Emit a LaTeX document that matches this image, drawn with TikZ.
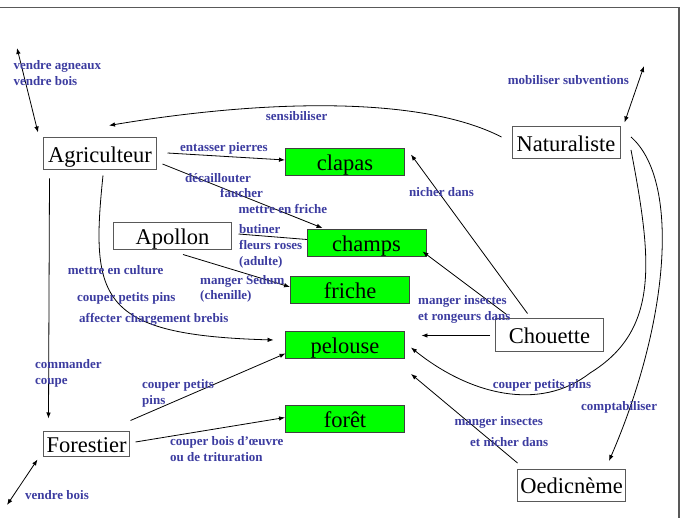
\documentclass[tikz,border=0pt]{standalone}
\usepackage{fontspec}
\setmainfont{Liberation Serif}
\usetikzlibrary{arrows.meta}
\definecolor{lbl}{RGB}{60,60,160}
\definecolor{boxgreen}{RGB}{0,255,0}
\begin{document}
\begin{tikzpicture}[x=1pt,y=-1pt,
  actor/.style={draw=black!65,line width=1pt,fill=white,inner sep=0pt,text height=20pt,text depth=2.6pt,font=\fontsize{22.5}{27}\selectfont},
  place/.style={draw=black!75,line width=0.9pt,fill=boxgreen,minimum width=119pt,minimum height=27pt,inner sep=0pt,text height=20pt,text depth=2.6pt,font=\fontsize{22.5}{27}\selectfont},
  lab/.style={text=lbl,font=\fontsize{13}{16}\selectfont\bfseries,anchor=west,inner sep=0pt,text height=9.5pt,text depth=2.5pt},
  conn/.style={line width=0.8pt,-{Latex[length=6pt,width=4.5pt]}},
  dconn/.style={line width=0.8pt,{Latex[length=6pt,width=4.5pt]}-{Latex[length=6pt,width=4.5pt]}},
  plain/.style={line width=0.8pt}]
\useasboundingbox (0,0) rectangle (682,518);
\draw[line width=1.5pt,draw=black!65] (0,7.5) -- (679,7.5) -- (679,518);

% actors
\node[actor,minimum width=113pt,minimum height=32pt] (agri) at (100,154) {Agriculteur};
\node[actor,minimum width=108pt,minimum height=32pt] (nat) at (566,142.5) {Naturaliste};
\node[actor,minimum width=118pt,minimum height=27pt] (apo) at (172.5,236) {Apollon};
\node[actor,minimum width=108pt,minimum height=33pt] (chou) at (549.5,335) {Chouette};
\node[actor,minimum width=86pt,minimum height=25pt] (fore) at (86.5,444) {Forestier};
\node[actor,minimum width=108pt,minimum height=32pt] (oed) at (571.5,485) {Oedicnème};

% places
\node[place] (clapas) at (345,162) {clapas};
\node[place] (champs) at (366.5,242.5) {champs};
\node[place] (friche) at (350,289.5) {friche};
\node[place] (pelouse) at (345,344.5) {pelouse};
\node[place] (foret) at (345,419) {forêt};

% free ends
\coordinate (va) at (17,48);
\coordinate (ms) at (644,66);
\coordinate (vb) at (7,505);

% connectors
\draw[dconn] (va) -- ([shift={(-5,-5)}]agri.north west);
\draw[conn] ([shift={(-10,-5.5)}]nat.west) .. controls (420,95) and (260,100) .. ([shift={(9,-12)}]agri.north);
\draw[dconn] (ms) -- ([shift={(4,-3.5)}]nat.north east);
\draw[conn] ([shift={(10.5,-1)}]agri.east) -- ([shift={(0,-2)}]clapas.west);
\draw[conn] ([shift={(5.5,10)}]agri.east) -- ([shift={(16,-0.5)}]champs.north west);
\draw[conn] ([shift={(3,5)}]agri.south) .. controls (90,300) and (100,335) .. ([shift={(-11.5,-4.5)}]pelouse.west);
\draw[conn] ([shift={(6.5,8)}]agri.south west) -- ([shift={(5.5,-12.5)}]fore.north west);
\draw[plain] ([shift={(6.5,-2)}]apo.east) -- ([shift={(0.5,-3)}]champs.west);
\draw[conn] ([shift={(10.5,4.5)}]apo.south) -- ([shift={(0,-2.5)}]friche.west);
\draw[conn] ([shift={(0.5,-10.5)}]fore.north east) -- ([shift={(0.5,-5)}]pelouse.south west);
\draw[conn] ([shift={(5.5,-2)}]fore.east) -- ([shift={(0,-1.5)}]foret.west);
\draw[dconn] ([shift={(-5.5,2.5)}]fore.south west) -- (vb);
\draw[conn] ([shift={(-22,-4.5)}]chou.north) -- ([shift={(6,-7.5)}]clapas.east);
\draw[conn] ([shift={(11.5,-3.5)}]chou.north west) -- ([shift={(-4,-5)}]champs.south east);
\draw[conn] ([shift={(-5,0.5)}]chou.west) -- ([shift={(16.5,-9)}]pelouse.east);
\draw[conn] ([shift={(10.5,7.5)}]nat.east) .. controls (652,260) and (660,330) .. (590,373)
   .. controls (540,412) and (470,395) .. ([shift={(6,3)}]pelouse.east);
\draw[conn] ([shift={(10.5,-5.5)}]nat.east) .. controls (680,180) and (670,320) .. ([shift={(37.5,-7.5)}]oed.north);
\draw[conn] ([shift={(0.5,-5.5)}]oed.north west) -- ([shift={(6,15.5)}]pelouse.south east);

% labels
\node[lab] (l1) at (13.3,66) {vendre agneaux};
\node[lab] (l2) at (13.3,82) {vendre bois};
\node[lab] (l3) at (507.7,81.5) {mobiliser subventions};
\node[lab] (l4) at (265.7,117) {sensibiliser};
\node[lab] (l5) at (180,148) {entasser pierres};
\node[lab] (l6) at (185,179.5) {décaillouter};
\node[lab] (l7) at (220,194.3) {faucher};
\node[lab] (l8) at (238.3,209.7) {mettre en friche};
\node[lab] (l9) at (239,230) {butiner};
\node[lab] (l10) at (239,246) {fleurs roses};
\node[lab] (l11) at (239,262) {(adulte)};
\node[lab] (l12) at (67.7,270.7) {mettre en culture};
\node[lab] (l13) at (200,280.7) {manger Sedum};
\node[lab] (l14) at (200,295.7) {(chenille)};
\node[lab] (l15) at (77,297.7) {couper petits pins};
\node[lab] (l16) at (79,318.7) {affecter chargement brebis};
\node[lab] (l17) at (35,364.7) {commander};
\node[lab] (l18) at (35,380.7) {coupe};
\node[lab] (l19) at (142,384.7) {couper petits};
\node[lab] (l20) at (142,400.7) {pins};
\node[lab] (l21) at (409,193) {nicher dans};
\node[lab] (l22) at (418,301) {manger insectes};
\node[lab] (l23) at (418,317) {et rongeurs dans};
\node[lab] (l24) at (492.7,385) {couper petits pins};
\node[lab] (l25) at (581,406.7) {comptabiliser};
\node[lab] (l26) at (454.3,422.3) {manger insectes};
\node[lab] (l27) at (470,443.3) {et nicher dans};
\node[lab] (l28) at (170,441.7) {couper bois d’œuvre};
\node[lab] (l29) at (170,457.7) {ou de trituration};
\node[lab] (l30) at (25,496) {vendre bois};
\end{tikzpicture}
\end{document}
